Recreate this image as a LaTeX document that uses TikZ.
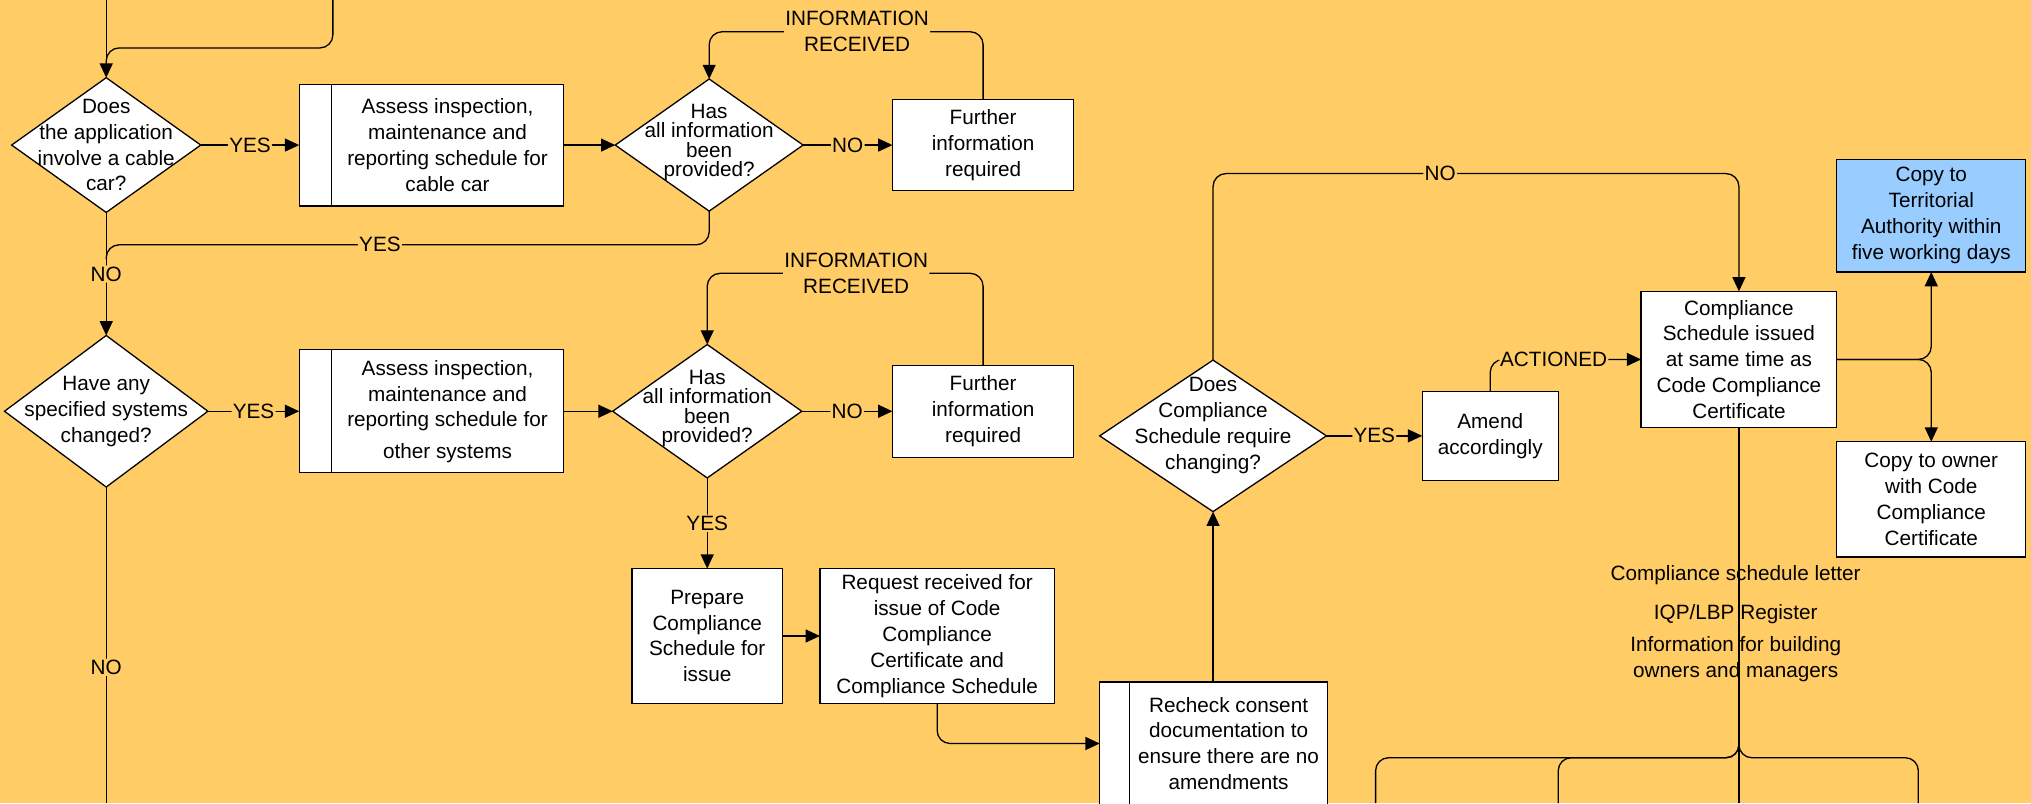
\documentclass[tikz,border=0pt]{standalone}
\usepackage{fontspec}
\setmainfont{Liberation Sans}
\usetikzlibrary{shapes.geometric,arrows.meta}

\definecolor{pageorange}{RGB}{255,204,102}
\definecolor{copyblue}{RGB}{153,204,255}

\tikzset{
  box/.style={draw, fill=white, align=center, inner sep=2pt, outer sep=0pt},
  decision/.style={draw, fill=white, diamond, inner sep=0pt, outer sep=0pt},
  flow/.style={-{Triangle[length=11pt,width=10pt]}, rounded corners=10pt},
  link/.style={rounded corners=10pt},
  lbl/.style={fill=pageorange, inner sep=1pt, align=center},
  note/.style={align=center}
}

\begin{document}
\begin{tikzpicture}[x=1pt, y=-1pt, line width=1pt, font=\fontsize{16}{20}\selectfont]
  % Page
  \fill[pageorange] (0,0) rectangle (1568,620);
  \useasboundingbox (0,0) rectangle (1568,620);

  \def\stripw{25}
  \def\tight{\fontsize{16}{15}\selectfont}

  % Free ends
  \coordinate (src1) at (82,0);
  \coordinate (src2) at (257,0);
  \coordinate (merge1) at (82,37);
  \coordinate (join1) at (82,50);
  \coordinate (merge2) at (82,189);
  \coordinate (join2) at (82,200);
  \coordinate (info1) at (547.5,24.5);
  \coordinate (info2) at (546,211);
  \coordinate (noturn) at (1342.5,134);
  \coordinate (split) at (1342.5,585);
  \coordinate (out0) at (82,620);
  \coordinate (out1) at (1062,620);
  \coordinate (out2) at (1203,620);
  \coordinate (out3) at (1342.5,620);
  \coordinate (out4) at (1481,620);

  % Cable car branch
  \node[decision, minimum width=146, minimum height=104] (d1) at (82,112) {};
  \node[note] (d1t) at (d1) {Does\\the application\\involve a cable\\car?};
  \node[box, minimum width=179, minimum height=94] (b1) at (345.5,112)
    {Assess inspection,\\maintenance and\\reporting schedule for\\cable car};
  \node[box, minimum width=\stripw, minimum height=94, anchor=north east] (b1s) at (b1.north west) {};
  \node[decision, minimum width=145, minimum height=102] (d2) at (547.5,112) {};
  \node[note, font=\tight] (d2t) at (547.5,110) {Has\\all information\\been\\provided?};
  \node[box, minimum width=140, minimum height=70] (f1) at (759,112)
    {Further\\information\\required};

  % Specified systems branch
  \node[decision, minimum width=157, minimum height=117] (d3) at (82,317.5) {};
  \node[note] (d3t) at (d3) {Have any\\specified systems\\changed?};
  \node[box, minimum width=179, minimum height=95] (b2) at (345.5,317.5)
    {Assess inspection,\\maintenance and\\reporting schedule for\\[4pt]other systems};
  \node[box, minimum width=\stripw, minimum height=95, anchor=north east] (b2s) at (b2.north west) {};
  \node[decision, minimum width=146, minimum height=103] (d4) at (546,317.5) {};
  \node[note, font=\tight] (d4t) at (546,315.5) {Has\\all information\\been\\provided?};
  \node[box, minimum width=140, minimum height=71] (f2) at (759,317.5)
    {Further\\information\\required};

  % Issue
  \node[box, minimum width=116, minimum height=104] (p) at (546,491)
    {Prepare\\Compliance\\Schedule for\\issue};
  \node[box, minimum width=181, minimum height=104] (r) at (723.5,491)
    {Request received for\\issue of Code\\Compliance\\Certificate and\\Compliance Schedule};
  \node[box, minimum width=153, minimum height=95] (k) at (948.5,574)
    {Recheck consent\\documentation to\\ensure there are no\\amendments};
  \node[box, minimum width=23, minimum height=95, anchor=north east] (ks) at (k.north west) {};
  \node[decision, minimum width=175, minimum height=117] (d5) at (936.5,336.5) {};
  \node[note] (d5t) at (936.5,328.5) {Does\\Compliance\\Schedule require\\changing?};
  \node[box, minimum width=105, minimum height=69] (a) at (1150.5,336.5)
    {Amend\\accordingly};
  \node[box, minimum width=151, minimum height=105] (cs) at (1342.5,277.5)
    {Compliance\\Schedule issued\\at same time as\\Code Compliance\\Certificate};
  \node[box, fill=copyblue, minimum width=146, minimum height=87] (bl) at (1491,166.5)
    {Copy to\\Territorial\\Authority within\\five working days};
  \node[box, minimum width=146, minimum height=89] (ow) at (1491,385.5)
    {Copy to owner\\with Code\\Compliance\\Certificate};

  % Connectors
  \draw[flow] (src1) -- (d1.north);
  \draw[link] (src2) |- (merge1) -- (join1);
  \draw[flow] (d1.east) -- node[lbl]{YES} (b1s.west);
  \draw[flow] (b1.east) -- (d2.west);
  \draw[flow] (d2.east) -- node[lbl]{NO} (f1.west);
  \draw[flow] (f1.north) |- node[lbl, pos=0.73]{INFORMATION\\RECEIVED} (info1) -- (d2.north);
  \draw[link] (d2.south) |- node[lbl, pos=0.773]{YES} (merge2) -- (join2);
  \draw[flow] (d1.south) -- node[lbl]{NO} (d3.north);

  \draw[flow] (d3.east) -- node[lbl]{YES} (b2s.west);
  \draw[flow] (b2.east) -- (d4.west);
  \draw[flow] (d4.east) -- node[lbl]{NO} (f2.west);
  \draw[flow] (f2.north) |- node[lbl, pos=0.73]{INFORMATION\\RECEIVED} (info2) -- (d4.north);
  \draw[link] (d3.south) -- node[lbl, pos=0.57]{NO} (out0);

  \draw[flow] (d4.south) -- node[lbl]{YES} (p.north);
  \draw[flow] (p.east) -- (r.west);
  \draw[flow] (r.south) |- (ks.west);
  \draw[flow] (d5.south |- k.north) -- (d5.south);
  \draw[flow] (d5.east) -- node[lbl]{YES} (a.west);
  \draw[flow] (d5.north) |- node[lbl, pos=0.716]{NO} (noturn) -- (cs.north);
  \draw[flow] (a.north) |- node[lbl, pos=0.71]{ACTIONED} (cs.west);
  \draw[flow] (cs.east) -| (bl.south);
  \draw[flow] (cs.east) -| (ow.north);

  % Outputs
  \draw[link] (cs.south) -- (out3);
  \draw[link] (cs.south) -- (split) -| (out1);
  \draw[link] (cs.south) -- (split) -| (out2);
  \draw[link] (cs.south) -- (split) -| (out4);
  \node (letter) at (1340,444) {Compliance schedule letter};
  \node (register) at (1340,474) {IQP/LBP Register};
  \node[note] (owners) at (1340,509) {Information for building\\owners and managers};
\end{tikzpicture}
\end{document}
